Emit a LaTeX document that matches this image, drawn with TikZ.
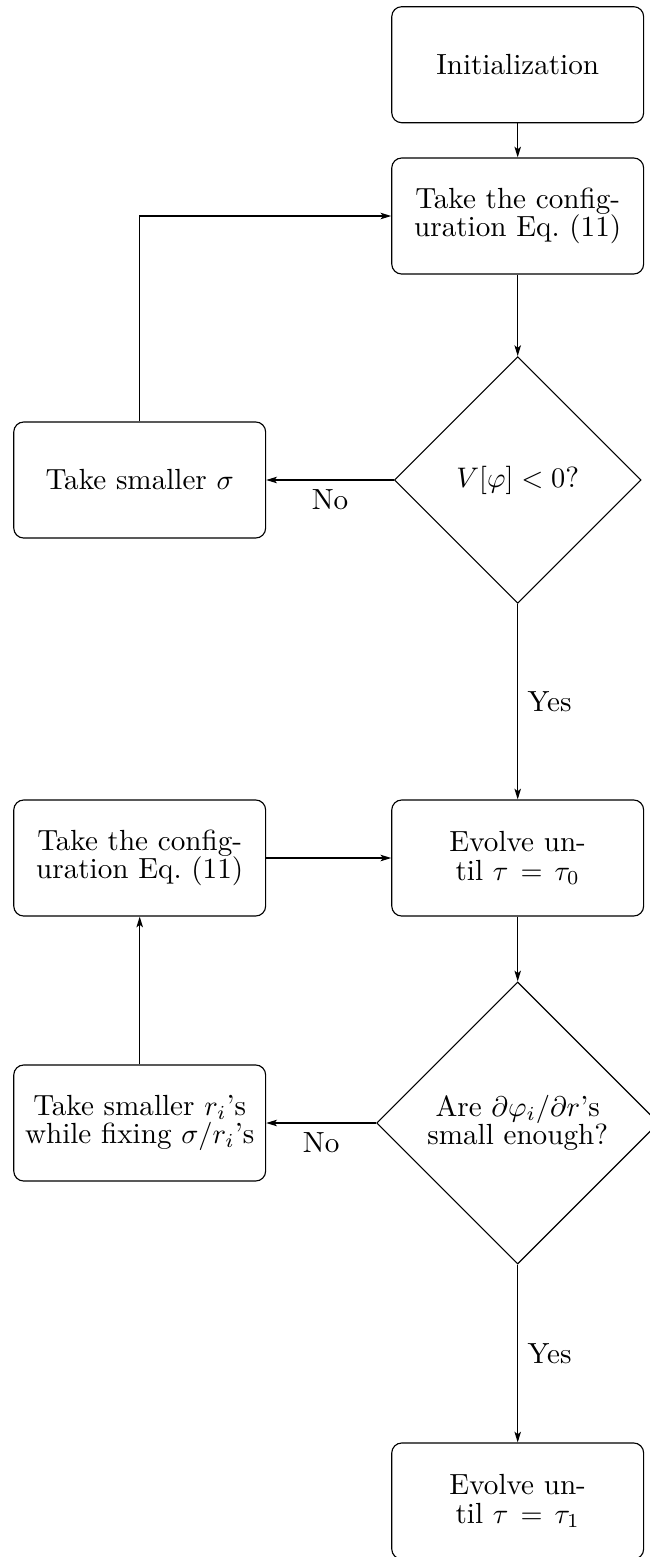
\documentclass[tikz,border=0pt]{standalone}
\usetikzlibrary{shapes.geometric,arrows.meta}
\begin{document}
\begin{tikzpicture}[x=0.3534pt,y=-0.3534pt,
  font=\fontsize{10.3pt}{10pt}\selectfont,
  stepbox/.style={draw,rounded corners=3.5pt,minimum width=89pt,minimum height=41pt,align=center,inner sep=0pt},
  decision/.style={draw,diamond,shape aspect=1,inner sep=0pt,align=center},
  conn/.style={-{Stealth[length=3.8pt,width=2.3pt,inset=0.9pt]}},
  lab/.style={inner sep=3.33pt}]
\useasboundingbox (0,0) rectangle (649,1557);
\node[stepbox] (init) at (517.7,64.7) {Initialization};
\node[stepbox] (cfga) at (517.7,216) {Take the config-\\uration Eq.~(11)};
\node[decision,minimum width=87.2pt,minimum height=87.2pt] (da) at (517.7,480) {$V[\varphi]<0$?};
\node[stepbox] (sig) at (139.7,480) {Take smaller $\sigma$};
\node[stepbox] (eva) at (517.7,858) {Evolve un-\\til $\tau\hspace{1.5pt}=\hspace{1.5pt}\tau_0$};
\node[stepbox] (cfgb) at (139.7,858) {Take the config-\\uration Eq.~(11)};
\node[decision,minimum width=99.7pt,minimum height=99.7pt] (db) at (517.7,1123) {Are $\partial\varphi_i/\partial r$'s\\small enough?};
\node[stepbox] (ri) at (139.7,1123) {Take smaller $r_i$'s\\while fixing $\sigma/r_i$'s};
\node[stepbox] (evb) at (517.7,1501) {Evolve un-\\til $\tau\hspace{1.5pt}=\hspace{1.5pt}\tau_1$};
\draw[conn] (init) -- (cfga);
\draw[conn] (cfga) -- (da);
\draw[conn] (da.west) -- node[lab,below] {No} (sig.east);
\draw[conn] (sig.north) |- (cfga.west);
\draw[conn] (da.south) -- node[lab,right] {Yes} (eva.north);
\draw[conn] (cfgb.east) -- (eva.west);
\draw[conn] (eva) -- (db);
\draw[conn] (db.west) -- node[lab,below] {No} (ri.east);
\draw[conn] (ri.north) -- (cfgb.south);
\draw[conn] (db.south) -- node[lab,right] {Yes} (evb.north);
\end{tikzpicture}
\end{document}
